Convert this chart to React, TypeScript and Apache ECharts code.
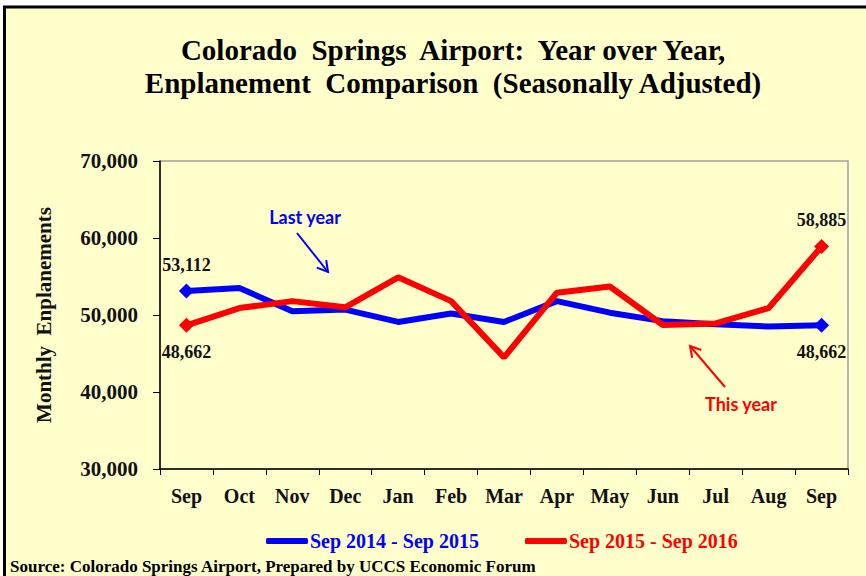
import React, { useEffect, useRef } from "react";
import * as echarts from "echarts";

const months = ["Sep", "Oct", "Nov", "Dec", "Jan", "Feb", "Mar", "Apr", "May", "Jun", "Jul", "Aug", "Sep"];
const lastYear = [53112, 53500, 50500, 50700, 49100, 50200, 49100, 51800, 50300, 49200, 48800, 48500, 48662];
const thisYear = [48662, 50900, 51800, 51000, 54900, 51800, 44500, 52900, 53700, 48700, 48900, 50900, 58885];
const seriesNames = ["Sep 2014 - Sep 2015", "Sep 2015 - Sep 2016"];
const yTicks = { min: 30000, max: 70000, interval: 10000 };

const SERIF = "'Liberation Serif', 'Times New Roman', serif";
const BLUE = "#0000ff";
const RED = "#ff0000";

function buildData(values: number[], firstPos: string, lastPos: string) {
  const n = values.length;
  return values.map((v, i) => {
    if (i === 0 || i === n - 1) {
      return {
        value: v,
        symbol: "diamond",
        symbolSize: 15,
        label: {
          show: true,
          position: i === 0 ? firstPos : lastPos,
          distance: 10,
          formatter: (p: any) => Number(p.value).toLocaleString("en-US"),
          fontFamily: SERIF,
          fontWeight: "bold",
          fontSize: 18,
          color: "#111",
        },
      };
    }
    return { value: v, symbol: "none" };
  });
}

export default function App() {
  const ref = useRef<HTMLDivElement>(null);
  useEffect(() => {
    if (!ref.current) return;
    const chart = echarts.init(ref.current, undefined, { renderer: "svg" });
    chart.setOption({
      animation: false,
      backgroundColor: "#ffffff",
      title: {
        text: "Colorado  Springs  Airport:  Year over Year,\nEnplanement  Comparison  (Seasonally Adjusted)",
        left: 448,
        top: 28,
        textAlign: "center",
        textStyle: {
          fontFamily: SERIF,
          fontWeight: "bold",
          fontSize: 29,
          lineHeight: 33,
          color: "#000",
        },
      },
      graphic: [
        {
          type: "rect",
          z: -10,
          silent: true,
          shape: { x: 4.5, y: 7, width: 870, height: 580 },
          style: { fill: "#ffffcc", stroke: "#000", lineWidth: 3 },
        },
        {
          type: "text",
          x: 305,
          y: 217,
          style: {
            text: "Last year",
            fontFamily: "Lato, 'Open Sans', sans-serif",
            fontWeight: "bold",
            fontSize: 18,
            fill: BLUE,
            align: "center",
            verticalAlign: "middle",
          },
        },
        {
          type: "line",
          shape: { x1: 297, y1: 233, x2: 328, y2: 272 },
          style: { stroke: BLUE, lineWidth: 2 },
        },
        {
          type: "polyline",
          shape: { points: [[326.2, 260.1], [328, 272], [316.8, 267.6]] },
          style: { stroke: BLUE, lineWidth: 2, fill: "none" },
        },
        {
          type: "text",
          x: 741,
          y: 404,
          style: {
            text: "This year",
            fontFamily: "Lato, 'Open Sans', sans-serif",
            fontWeight: "bold",
            fontSize: 18,
            fill: RED,
            align: "center",
            verticalAlign: "middle",
          },
        },
        {
          type: "line",
          shape: { x1: 725, y1: 387, x2: 690, y2: 346 },
          style: { stroke: RED, lineWidth: 2 },
        },
        {
          type: "polyline",
          shape: { points: [[692.2, 357.8], [690, 346], [701.3, 350]] },
          style: { stroke: RED, lineWidth: 2, fill: "none" },
        },
        {
          type: "text",
          x: 10,
          y: 566,
          style: {
            text: "Source: Colorado Springs Airport, Prepared by UCCS Economic Forum",
            fontFamily: SERIF,
            fontWeight: "bold",
            fontSize: 17,
            fill: "#000",
            align: "left",
            verticalAlign: "middle",
          },
        },
      ],
      legend: {
        left: 261,
        top: 526,
        itemWidth: 42,
        itemHeight: 6,
        itemGap: 46,
        icon: "roundRect",
        textStyle: { fontFamily: SERIF, fontWeight: "bold", fontSize: 20, padding: [0, 0, 0, -3] },
        data: [
          { name: seriesNames[0], textStyle: { color: BLUE } },
          { name: seriesNames[1], textStyle: { color: RED } },
        ],
      },
      grid: {
        left: 160,
        right: 18,
        top: 161,
        bottom: 107,
        show: true,
        borderColor: "#a0a0a0",
        borderWidth: 1.5,
        backgroundColor: "transparent",
      },
      xAxis: {
        type: "category",
        data: months,
        boundaryGap: true,
        axisLine: { lineStyle: { color: "#000", width: 1.5 } },
        axisTick: { show: true, interval: 0, length: 6, inside: false, lineStyle: { color: "#000" } },
        axisLabel: {
          interval: 0,
          margin: 17,
          fontFamily: SERIF,
          fontWeight: "bold",
          fontSize: 20,
          color: "#111",
        },
        splitLine: { show: false },
      },
      yAxis: {
        type: "value",
        min: yTicks.min,
        max: yTicks.max,
        interval: yTicks.interval,
        name: "Monthly  Enplanements",
        nameLocation: "middle",
        nameRotate: 90,
        nameGap: 106,
        nameTextStyle: { fontFamily: SERIF, fontWeight: "bold", fontSize: 21, color: "#111" },
        axisLine: { show: true, lineStyle: { color: "#000", width: 1.5 } },
        axisTick: { show: true, length: 7, lineStyle: { color: "#000" } },
        axisLabel: {
          margin: 22,
          formatter: (v: number) => v.toLocaleString("en-US"),
          fontFamily: SERIF,
          fontWeight: "bold",
          fontSize: 21,
          color: "#111",
        },
        splitLine: { show: false },
      },
      series: [
        {
          name: seriesNames[0],
          type: "line",
          color: BLUE,
          symbol: "diamond",
          symbolSize: 15,
          lineStyle: { width: 6, color: BLUE },
          itemStyle: { color: BLUE },
          data: buildData(lastYear, "top", "bottom"),
          z: 2,
        },
        {
          name: seriesNames[1],
          type: "line",
          color: RED,
          symbol: "diamond",
          symbolSize: 15,
          lineStyle: { width: 6, color: RED },
          itemStyle: { color: RED },
          data: buildData(thisYear, "bottom", "top"),
          z: 3,
        },
      ],
    });
    return () => chart.dispose();
  }, []);
  return (
    <div
      ref={ref}
      style={{ position: "fixed", left: 0, top: 0, width: 866, height: 576 }}
    />
  );
}
